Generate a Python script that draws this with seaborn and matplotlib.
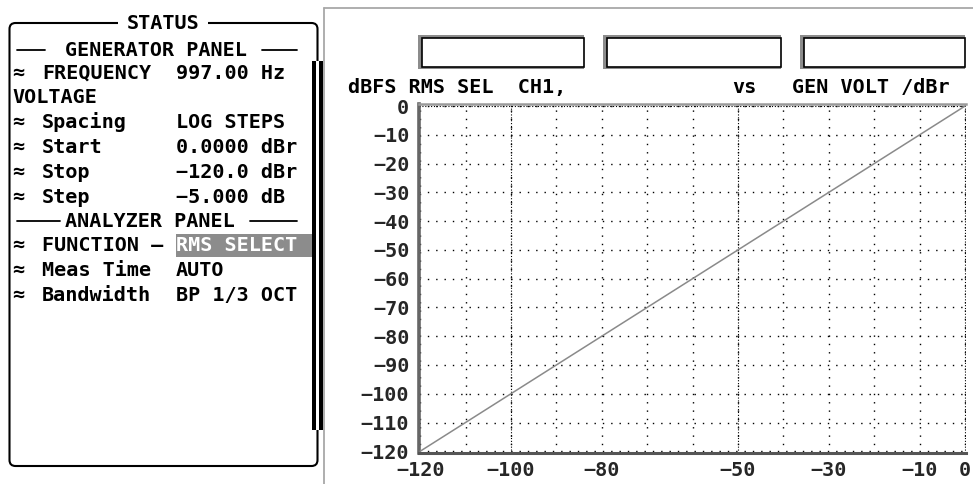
import matplotlib
matplotlib.use("Agg")
import matplotlib.pyplot as plt
from matplotlib.patches import Rectangle, FancyBboxPatch
import pandas as pd
import seaborn as sns

# Level sweep: generator voltage (dBr) against measured RMS level (dBFS)
gen_volt_dbr = [0, -5, -10, -15, -20, -25, -30, -35, -40, -45, -50, -55, -60,
                -65, -70, -75, -80, -85, -90, -95, -100, -105, -110, -115, -120]
rms_level_dbfs = [0.0, -5.0, -10.0, -15.0, -20.0, -25.0, -30.0, -35.0, -40.0,
                  -45.0, -50.0, -55.0, -60.0, -65.0, -70.0, -75.0, -80.0,
                  -85.0, -90.0, -95.0, -100.0, -105.0, -110.0, -115.0, -120.0]

x_tick_values = [-120, -100, -80, -50, -30, -10, 0]
x_grid_values = [-120, -110, -100, -90, -80, -70, -60, -50, -40, -30, -20, -10, 0]
x_dense_grid = [-100, -50, 0]
y_tick_values = [0, -10, -20, -30, -40, -50, -60, -70, -80, -90, -100, -110, -120]

header_left = "dBFS RMS SEL  CH1,"
header_mid = "vs"
header_right = "GEN VOLT /dBr"

# Status panel rows: (marker, label, value)
generator_rows = [
    ("≈", "FREQUENCY", "997.00 Hz"),
    ("", "VOLTAGE", ""),
    ("≈", "Spacing", "LOG STEPS"),
    ("≈", "Start", "0.0000 dBr"),
    ("≈", "Stop", "−120.0 dBr"),
    ("≈", "Step", "−5.000 dB"),
]
analyzer_rows = [
    ("≈", "FUNCTION —", "RMS SELECT"),
    ("≈", "Meas Time", "AUTO"),
    ("≈", "Bandwidth", "BP 1/3 OCT"),
]

sns.set_style("white")
plt.rcParams["font.family"] = ["DejaVu Sans Mono", "DejaVu Sans"]
plt.rcParams["font.weight"] = "bold"

W, H = 973, 484
fig = plt.figure(figsize=(W / 100, H / 100), dpi=100)

# Pixel-space layer for the status panel and window chrome
bg = fig.add_axes([0, 0, 1, 1])
bg.set_xlim(0, W)
bg.set_ylim(H, 0)
bg.axis("off")

FS = 14.5
txt = dict(fontsize=FS, fontweight="bold", color="black", va="baseline")

# Graph window outline
bg.plot([324, W], [7.5, 7.5], color="#a8a8a8", lw=1.3)
bg.plot([324, 324], [7.5, H], color="#a8a8a8", lw=1.3)

# Status panel frame
panel = FancyBboxPatch((9.5, 23), 308, 443, boxstyle="round,pad=0,rounding_size=6",
                       fc="white", ec="black", lw=1.5)
bg.add_patch(panel)
bg.text(163, 29, "STATUS", ha="center",
        bbox=dict(fc="white", ec="none", pad=6), **txt)

# Scroll bar at the panel's right edge
bg.add_patch(Rectangle((311.5, 61), 4.5, 369, fc="black", ec="none", zorder=3))
bg.add_patch(Rectangle((316.0, 61), 3.0, 369, fc="white", ec="none", zorder=3))
bg.add_patch(Rectangle((319.0, 61), 3.6, 369, fc="black", ec="none", zorder=3))

# Section headings with rules
bg.plot([17, 45], [50, 50], color="black", lw=1.3)
bg.plot([262, 297], [50, 50], color="black", lw=1.3)
bg.text(65, 56, "GENERATOR PANEL", ha="left", **txt)
bg.plot([17, 60], [221, 221], color="black", lw=1.3)
bg.plot([250, 297], [221, 221], color="black", lw=1.3)
bg.text(65, 227, "ANALYZER PANEL", ha="left", **txt)

gen_baselines = [79, 103, 128, 153, 178, 203]
for (mark, label, value), yb in zip(generator_rows, gen_baselines):
    if mark:
        bg.text(12, yb, mark, ha="left", **txt)
        bg.text(42, yb, label, ha="left", **txt)
    else:
        bg.text(12, yb, label, ha="left", **txt)
    if value:
        bg.text(176, yb, value, ha="left", **txt)

ana_baselines = [251, 276, 301]
for i, ((mark, label, value), yb) in enumerate(zip(analyzer_rows, ana_baselines)):
    bg.text(12, yb, mark, ha="left", **txt)
    bg.text(42, yb, label, ha="left", **txt)
    if i == 0:
        bg.add_patch(Rectangle((176, 233.5), 136, 23.5, fc="#8c8c8c", ec="none"))
        bg.text(176, yb, value, ha="left", **{**txt, "color": "white"})
    else:
        bg.text(176, yb, value, ha="left", **txt)

# Three empty readout boxes above the graph
for x0, x1 in [(418, 584), (603, 781), (800, 965)]:
    bg.add_patch(Rectangle((x0, 35), x1 - x0, 34, fc="#8c8c8c", ec="none"))
    bg.add_patch(Rectangle((x0 + 3.5, 38), x1 - x0 - 3.5, 28.5, fc="white",
                           ec="black", lw=1.2))

# Axis captions
bg.text(348, 93, header_left, ha="left", **txt)
bg.text(732, 93, header_mid, ha="left", **txt)
bg.text(792, 93, header_right, ha="left", **txt)

# Graph area
ax = fig.add_axes([419 / W, 1 - 453 / H, (966 - 419) / W, (453 - 104) / H])
ax.set_facecolor("white")
df = pd.DataFrame({"gen": gen_volt_dbr, "level": rms_level_dbfs})
sns.lineplot(data=df, x="gen", y="level", ax=ax, color="#8a8a8a", lw=1.1,
             zorder=5)
ax.set_xlim(-120.25, 0.2)
ax.set_ylim(-120.6, 0.7)
ax.set_xlabel("")
ax.set_ylabel("")

ax.set_xticks(x_tick_values)
ax.set_xticks(x_grid_values, minor=True)
ax.set_yticks(y_tick_values)
ax.grid(which="both", axis="both", color="black", lw=1.0, ls=(0, (1, 5)))
for xv in x_dense_grid:
    ax.axvline(xv, color="black", lw=0.8, ls=(0, (1, 1.6)))
ax.axhline(y_tick_values[0], color="black", lw=0.8, ls=(0, (1, 1.6)))

ax.tick_params(which="both", length=0)
ax.tick_params(axis="y", pad=7, labelsize=FS)
ax.tick_params(axis="x", pad=5.5, labelsize=FS)
for lab in ax.get_xticklabels() + ax.get_yticklabels():
    lab.set_fontweight("bold")

ax.spines["left"].set(color="#666666", lw=2.6)
ax.spines["bottom"].set(color="#555555", lw=2.2)
ax.spines["top"].set(color="#9a9a9a", lw=1.8)
ax.spines["right"].set_visible(False)

fig.savefig("out.png", dpi=100)
